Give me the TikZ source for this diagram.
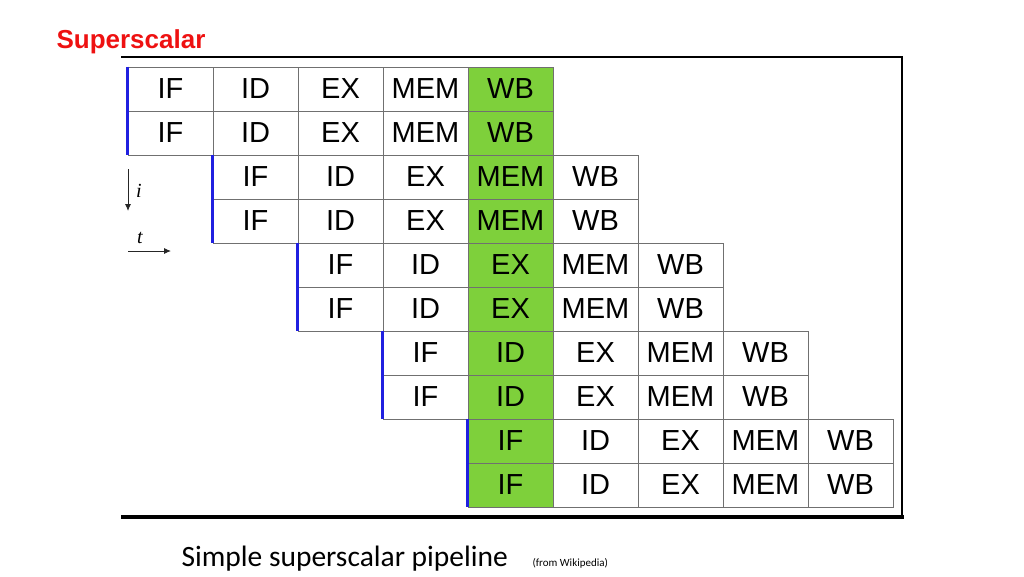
\documentclass[tikz,border=0pt]{standalone}
\usepackage{fontspec}
\setmainfont{Liberation Sans}
\newfontfamily\calib{Carlito}
\newfontfamily\serifaxe{Liberation Serif}
\usetikzlibrary{arrows.meta}
\definecolor{couleurtitre}{HTML}{EE1111}
\definecolor{couleurvert}{HTML}{7ED03B}
\definecolor{couleurbord}{HTML}{707070}
\definecolor{couleurbleu}{HTML}{2020E0}
\tikzset{
		etage/.style={draw=couleurbord, line width=0.8pt, minimum width=85pt, minimum height=44pt, inner sep=0pt, anchor=center, font=\fontsize{29}{29}\selectfont},
		etagevert/.style={etage, fill=couleurvert},
		bordbleu/.style={couleurbleu, line width=2.6pt},
		cadre/.style={black, line width=1.4pt},
		fleche/.style={-{Latex[length=7pt,width=6pt]}, line width=0.9pt, black!85},
		axelab/.style={font=\serifaxe\itshape\fontsize{20}{20}\selectfont}
	}

\begin{document}
\begin{tikzpicture}[x=1pt, y=-1pt]
		\useasboundingbox (0,0) rectangle (1024,576);
		% titre
		\node[text=couleurtitre, font=\bfseries\fontsize{26}{26}\selectfont, anchor=west] (titre) at (53,42) {Superscalar};
		% cadre
		\draw[cadre] (121,57) -- (902,57) -- (902,517);
		\draw[black, line width=4pt] (121,517) -- (904,517);
		% pipeline : deux instructions par cycle
		\foreach \r in {0,...,9} {
			\pgfmathtruncatemacro{\p}{int(\r/2)}
			\foreach \nom [count=\s from 0] in {IF,ID,EX,MEM,WB} {
				\pgfmathtruncatemacro{\c}{\p+\s}
				\ifnum\c=4
					\node[etagevert] (e-\r-\s) at (170.5+85*\c, 89+44*\r) {\nom};
				\else
					\node[etage] (e-\r-\s) at (170.5+85*\c, 89+44*\r) {\nom};
				\fi
			}
		}
		% traits bleus
		\foreach \p in {0,...,4} {
			\pgfmathtruncatemacro{\a}{2*\p}
			\pgfmathtruncatemacro{\b}{2*\p+1}
			\draw[bordbleu] (e-\a-0.north west) -- (e-\b-0.south west);
		}
		% axes i et t
		\coordinate (ihaut) at (128,169);
		\coordinate (ibas) at (128,211);
		\coordinate (tgauche) at (128,251);
		\coordinate (tdroite) at (171,251);
		\draw[fleche] (ihaut) -- (ibas);
		\draw[fleche] (tgauche) -- (tdroite);
		\node[axelab] (ilab) at (139,191) {i};
		\node[axelab] (tlab) at (140,238) {t};
		% legende
		\node[anchor=base west, font=\calib\fontsize{29.5}{29.5}\selectfont] (legende) at (178,566) {Simple superscalar pipeline};
		\node[anchor=base west, font=\calib\fontsize{11}{11}\selectfont] (source) at (529,566) {(from Wikipedia)};
	\end{tikzpicture}
\end{document}
